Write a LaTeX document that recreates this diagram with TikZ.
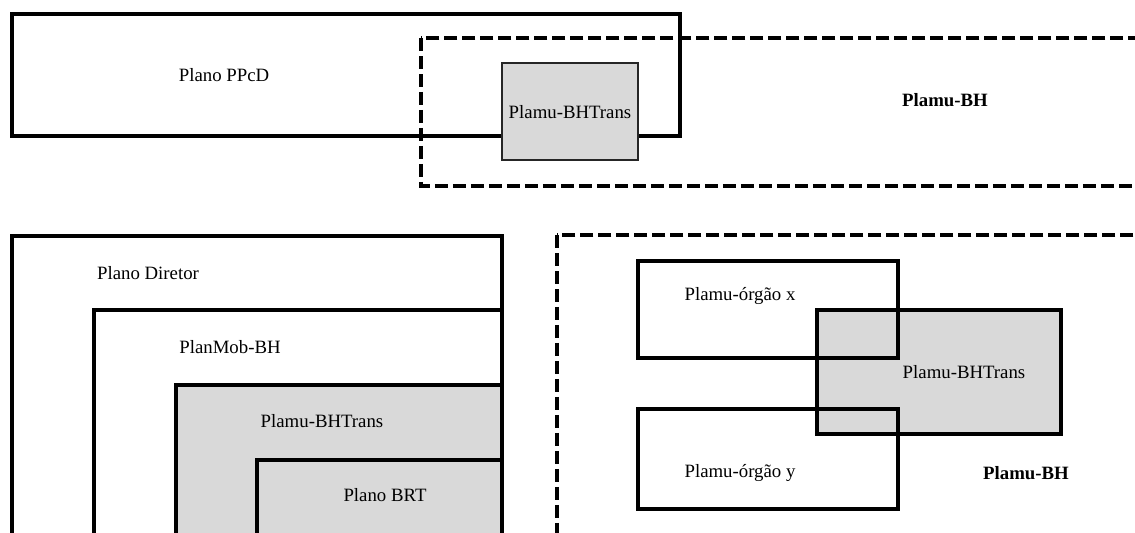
\documentclass[tikz,border=0pt]{standalone}
\usepackage{fontspec}
\setmainfont{Liberation Serif}

\begin{document}
\begin{tikzpicture}[
  x=0.02cm, y=-0.02cm,
  every node/.style={font=\fontsize{10.7pt}{13pt}\selectfont, inner sep=0pt},
  plano/.style={draw, line width=0.085cm},
  tracejado/.style={draw, line width=0.07cm, dash pattern=on 0.26cm off 0.1cm},
  cinza/.style={fill=black!15},
  fino/.style={draw=black!85, line width=0.035cm}
  ]
\useasboundingbox (0,0) rectangle (1135,532);
\clip (0,0) rectangle (1135,532);

% planos de cima
\draw[plano] (12,14) rectangle (680,136);
\draw[tracejado] (421,38) rectangle (1200,186);
\draw[cinza, fino] (502,63) rectangle (638,160);
\node (ppcd) at (224,75) {Plano PPcD};
\node (trans1) at (570,112) {Plamu-BHTrans};
\node[font=\fontsize{10.7pt}{13pt}\selectfont\bfseries] (bh1) at (945,100) {Plamu-BH};

% planos aninhados
\draw[plano] (12,236) rectangle (502,600);
\draw[plano] (94,310) rectangle (502,600);
\draw[plano, cinza] (176,385) rectangle (502,600);
\draw[plano, cinza] (257,460) rectangle (502,600);
\node (diretor) at (148,273) {Plano Diretor};
\node (planmob) at (230,347) {PlanMob-BH};
\node (trans2) at (322,421) {Plamu-BHTrans};
\node (brt) at (385,495) {Plano BRT};

% planos de órgãos
\draw[tracejado] (557,235) rectangle (1200,600);
\fill[cinza] (817,310) rectangle (1061,434);
\draw[plano] (638,261) rectangle (898,358);
\draw[plano] (638,409) rectangle (898,509);
\draw[plano] (817,310) rectangle (1061,434);
\node (orgaox) at (740,296) {Plamu-órgão x};
\node (trans3) at (964,372) {Plamu-BHTrans};
\node (orgaoy) at (740,473) {Plamu-órgão y};
\node[font=\fontsize{10.7pt}{13pt}\selectfont\bfseries] (bh2) at (1026,473) {Plamu-BH};

\end{tikzpicture}
\end{document}
